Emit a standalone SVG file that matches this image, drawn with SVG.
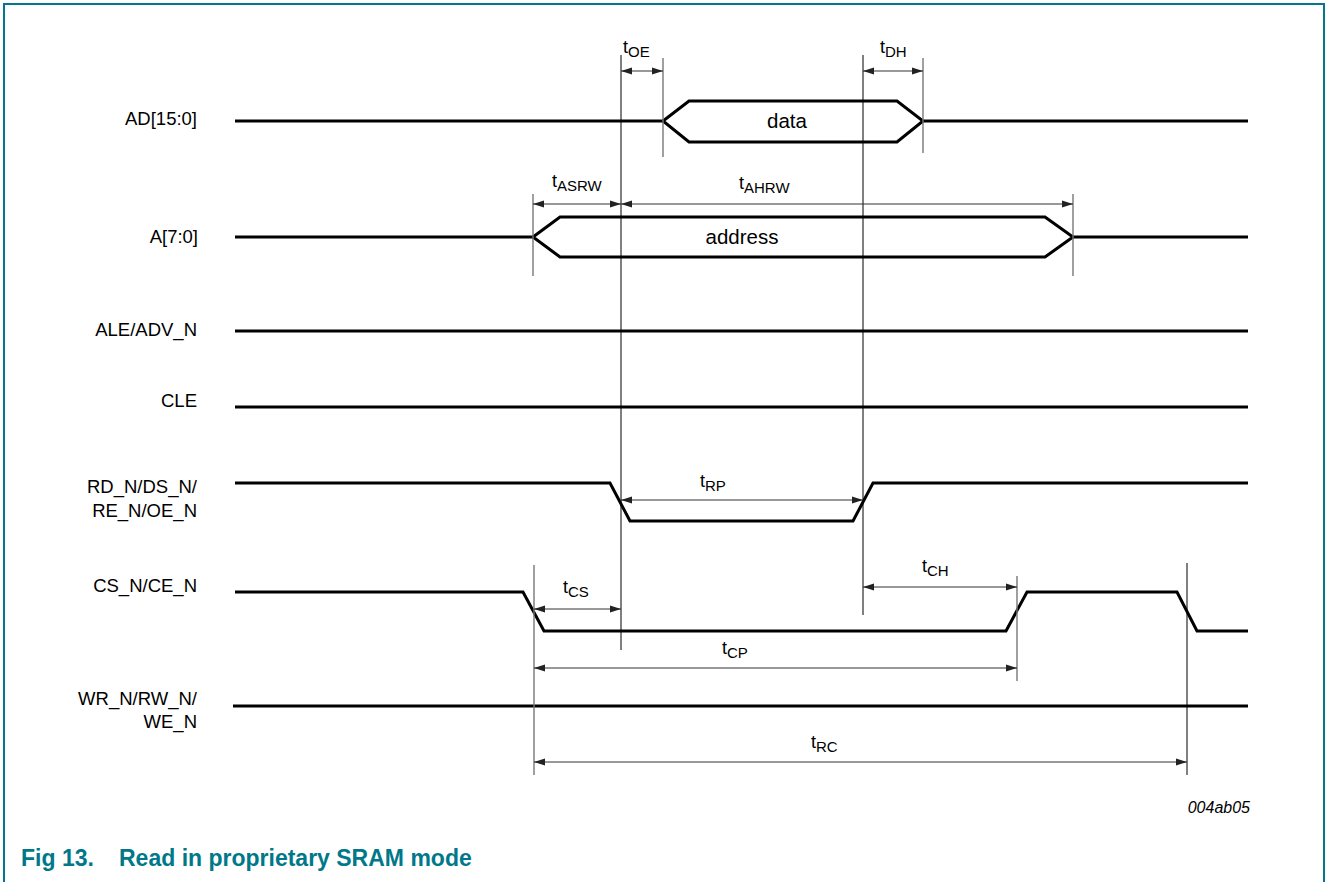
<svg xmlns="http://www.w3.org/2000/svg" width="1326" height="882" viewBox="0 0 1326 882">
<defs>
<marker id="ah" markerUnits="userSpaceOnUse" markerWidth="12" markerHeight="8" refX="11" refY="4" orient="auto-start-reverse">
<path d="M0,0.5 L11,4 L0,7.5 z" fill="#222"/>
</marker>
</defs>
<style>
.sig{fill:none;stroke:#000;stroke-width:3;stroke-linejoin:miter}
.lbl{font-family:"Liberation Sans",Arial,sans-serif;font-size:18.5px;fill:#000;text-anchor:end}
.bus{font-family:"Liberation Sans",Arial,sans-serif;font-size:20.5px;fill:#000;text-anchor:middle}
.tm{font-family:"Liberation Sans",Arial,sans-serif;font-size:18px;fill:#000}
.sub{font-size:15px}
.ref{stroke:#000;stroke-width:1;fill:none}
.gry{stroke:#777;stroke-width:1.4;fill:none}
.arr{stroke:#333;stroke-width:1;fill:none;marker-start:url(#ah);marker-end:url(#ah)}
.cap{font-family:"Liberation Sans",Arial,sans-serif;font-size:23px;font-weight:bold;fill:#00788a}
.id{font-family:"Liberation Sans",Arial,sans-serif;font-size:16px;font-style:italic;fill:#000;text-anchor:end}
</style>
<rect width="1326" height="882" fill="#fff"/>
<path d="M4,882 V4 H1324 V882" fill="none" stroke="#00788a" stroke-width="2"/>

<g id="sig-ad">
<text class="lbl" x="197" y="125">AD[15:0]</text>
<path class="sig" d="M235,121 H663 M923,121 H1248"/>
<polygon class="sig" points="663,121 689,101 897,101 923,121 897,142 689,142"/>
<text class="bus" x="787" y="128">data</text>
</g>
<g id="sig-a">
<text class="lbl" x="198" y="243">A[7:0]</text>
<path class="sig" d="M235,237 H533 M1073,237 H1248"/>
<polygon class="sig" points="533,237 560,217 1045,217 1073,237 1045,257 560,257"/>
<text class="bus" x="742" y="244">address</text>
</g>
<g id="sig-ale">
<text class="lbl" x="197" y="336">ALE/ADV_N</text>
<path class="sig" d="M235,331 H1248"/>
</g>
<g id="sig-cle">
<text class="lbl" x="197" y="406.5">CLE</text>
<path class="sig" d="M235,407 H1248"/>
</g>
<g id="sig-rd">
<text class="lbl" x="197" y="493">RD_N/DS_N/</text>
<text class="lbl" x="197" y="516.5">RE_N/OE_N</text>
<path class="sig" d="M235,483 H610 L630,521 H853 L873,483 H1248"/>
</g>
<g id="sig-cs">
<text class="lbl" x="197" y="592">CS_N/CE_N</text>
<path class="sig" d="M235,592 H523 L544,631 H1006 L1027,592 H1177 L1197,631 H1248"/>
</g>
<g id="sig-wr">
<text class="lbl" x="197" y="705">WR_N/RW_N/</text>
<text class="lbl" x="197" y="728">WE_N</text>
<path class="sig" d="M233,706 H1248"/>
</g>

<g id="connectors">
<line class="ref" x1="621" y1="55" x2="621" y2="650"/>
<line class="ref" x1="863" y1="55" x2="863" y2="615"/>
<line class="ref" x1="1187" y1="563" x2="1187" y2="775"/>
<line class="gry" x1="663" y1="58" x2="663" y2="157"/>
<line class="gry" x1="923" y1="58" x2="923" y2="153"/>
<line class="gry" x1="533" y1="194" x2="533" y2="276"/>
<line class="gry" x1="1073" y1="194" x2="1073" y2="276"/>
<line class="gry" x1="534" y1="565" x2="534" y2="775"/>
<line class="gry" x1="1017" y1="576" x2="1017" y2="681"/>

<line class="arr" x1="621" y1="71" x2="663" y2="71"/>
<line class="arr" x1="863" y1="71" x2="923" y2="71"/>
<line class="arr" x1="533" y1="204" x2="621" y2="204"/>
<line class="arr" x1="621" y1="204" x2="1073" y2="204"/>
<line class="arr" x1="621" y1="500" x2="863" y2="500"/>
<line class="arr" x1="534" y1="609" x2="621" y2="609"/>
<line class="arr" x1="863" y1="587" x2="1017" y2="587"/>
<line class="arr" x1="534" y1="668" x2="1017" y2="668"/>
<line class="arr" x1="534" y1="762" x2="1187" y2="762"/>

<text class="tm" x="623" y="53">t<tspan class="sub" dy="4">OE</tspan></text>
<text class="tm" x="880" y="53">t<tspan class="sub" dy="4">DH</tspan></text>
<text class="tm" x="552" y="187">t<tspan class="sub" dy="4">ASRW</tspan></text>
<text class="tm" x="739" y="189">t<tspan class="sub" dy="4">AHRW</tspan></text>
<text class="tm" x="700" y="487">t<tspan class="sub" dy="4">RP</tspan></text>
<text class="tm" x="922" y="572">t<tspan class="sub" dy="4">CH</tspan></text>
<text class="tm" x="563" y="593">t<tspan class="sub" dy="4">CS</tspan></text>
<text class="tm" x="722" y="654">t<tspan class="sub" dy="4">CP</tspan></text>
<text class="tm" x="811" y="748">t<tspan class="sub" dy="4">RC</tspan></text>
</g>

<text class="id" x="1250" y="813">004ab05</text>
<text class="cap" x="21" y="866">Fig 13.</text>
<text class="cap" x="119" y="866">Read in proprietary SRAM mode</text>
</svg>
